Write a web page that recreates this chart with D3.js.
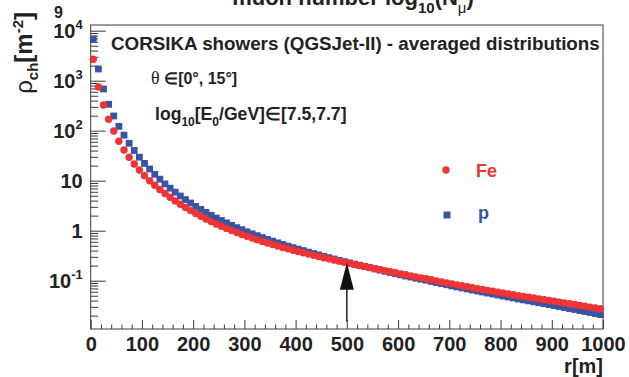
<!DOCTYPE html>
<html>
<head>
<meta charset="utf-8">
<script src="https://cdn.jsdelivr.net/npm/d3@7"></script>
<style>
  body { margin: 0; background: #fff; }
  svg { display: block; }
  text { font-family: "Liberation Sans", Arial, Helvetica, sans-serif; font-weight: bold; fill: #222; }
</style>
</head>
<body>
<svg id="chart" width="629" height="377"></svg>
<script>
// Radial bin centres (m)
const radius = [
  5, 15, 25, 35, 45, 55, 65, 75, 85, 95,
  105, 115, 125, 135, 145, 155, 165, 175, 185, 195,
  205, 215, 225, 235, 245, 255, 265, 275, 285, 295,
  305, 315, 325, 335, 345, 355, 365, 375, 385, 395,
  405, 415, 425, 435, 445, 455, 465, 475, 485, 495,
  505, 515, 525, 535, 545, 555, 565, 575, 585, 595,
  605, 615, 625, 635, 645, 655, 665, 675, 685, 695,
  705, 715, 725, 735, 745, 755, 765, 775, 785, 795,
  805, 815, 825, 835, 845, 855, 865, 875, 885, 895,
  905, 915, 925, 935, 945, 955, 965, 975, 985, 995
];

// Averaged charged-particle density (m^-2), iron primaries
const densityFe = [
  2680, 748, 327, 169, 98.6, 61.4, 41.1, 29.4, 21.6, 16.4,
  12.6, 10.0, 8.13, 6.67, 5.55, 4.66, 3.94, 3.37, 2.91, 2.52,
  2.21, 1.94, 1.71, 1.52, 1.36, 1.23, 1.11, 1.007, 0.918, 0.841,
  0.773, 0.713, 0.659, 0.611, 0.568, 0.528, 0.493, 0.461, 0.433, 0.406,
  0.383, 0.361, 0.340, 0.321, 0.304, 0.288, 0.273, 0.259, 0.246, 0.234,
  0.222, 0.211, 0.201, 0.192, 0.183, 0.174, 0.166, 0.158, 0.151, 0.144,
  0.137, 0.131, 0.125, 0.119, 0.114, 0.109, 0.104, 0.0991, 0.0946, 0.0904,
  0.0863, 0.0826, 0.0791, 0.0757, 0.0724, 0.0695, 0.0667, 0.0640, 0.0614, 0.0589,
  0.0565, 0.0543, 0.0522, 0.0502, 0.0483, 0.0466, 0.0449, 0.0433, 0.0417, 0.0402,
  0.0387, 0.0373, 0.0358, 0.0345, 0.0333, 0.0319, 0.0308, 0.0296, 0.0286, 0.0274
];

// Averaged charged-particle density (m^-2), proton primaries
const densityP = [
  6760, 1714, 682, 337, 197, 122, 81.3, 56.0, 40.2, 29.5,
  22.2, 17.1, 13.4, 10.7, 8.63, 7.08, 5.89, 4.94, 4.19, 3.58,
  3.06, 2.66, 2.32, 2.03, 1.79, 1.60, 1.43, 1.28, 1.15, 1.05,
  0.950, 0.868, 0.794, 0.729, 0.670, 0.618, 0.571, 0.530, 0.492, 0.458,
  0.428, 0.399, 0.373, 0.349, 0.327, 0.307, 0.288, 0.271, 0.255, 0.240,
  0.227, 0.214, 0.203, 0.192, 0.182, 0.172, 0.163, 0.154, 0.146, 0.138,
  0.131, 0.124, 0.118, 0.112, 0.107, 0.102, 0.0966, 0.0918, 0.0873, 0.0830,
  0.0789, 0.0752, 0.0716, 0.0682, 0.0650, 0.0621, 0.0593, 0.0566, 0.0541, 0.0516,
  0.0493, 0.0471, 0.0451, 0.0431, 0.0412, 0.0395, 0.0378, 0.0362, 0.0347, 0.0332,
  0.0318, 0.0304, 0.0290, 0.0277, 0.0265, 0.0252, 0.0241, 0.0231, 0.0220, 0.0210
];

// Axis ticks and labels
const xTickValues = [0, 100, 200, 300, 400, 500, 600, 700, 800, 900, 1000];
const yTickValues = [1e-1, 1, 10, 1e2, 1e3, 1e4];
const yTickBase   = ["10", "1", "10", "10", "10", "10"];
const yTickExp    = ["-1", "", "", "2", "3", "4"];

// Reference arrow at r = 500 m
const arrowR = 500, arrowFrom = 0.0152, arrowTo = 0.229;

const RED = "#ee3434", BLUE = "#3a54a5", INK = "#222", AXIS = "#3a3a3a";

const svg = d3.select("#chart");
const frame = { left: 90.7, right: 603, top: 25, bottom: 329 };

const x = d3.scaleLinear().domain([0, 1000]).range([frame.left, frame.right]);
const y = d3.scaleLog().domain([0.0108, 13000]).range([frame.bottom, frame.top]);

// --- axes (ticks pointing into the frame) ---
const xMinor = x.ticks(50).filter(v => v % 100 !== 0);
svg.append("g").attr("transform", `translate(0,${frame.bottom})`)
  .call(d3.axisBottom(x).tickValues(xMinor).tickSize(-4.5).tickFormat(""))
  .call(g => g.select(".domain").remove());
const gx = svg.append("g").attr("transform", `translate(0,${frame.bottom})`)
  .call(d3.axisBottom(x).tickValues(xTickValues).tickSize(-9).tickPadding(10).tickFormat(d3.format("d")))
  .call(g => g.select(".domain").remove());
gx.selectAll("text").attr("font-size", 20).attr("dy", 0).attr("y", 22).style("fill", INK)
  .attr("font-family", "Liberation Sans, Arial, sans-serif").attr("font-weight", "bold");

const yMinor = y.ticks().filter(v => Math.abs(Math.log10(v) - Math.round(Math.log10(v))) > 1e-6);
svg.append("g").attr("transform", `translate(${frame.left},0)`)
  .call(d3.axisLeft(y).tickValues(yMinor).tickSize(-7.5).tickFormat(""))
  .call(g => g.select(".domain").remove());
const gy = svg.append("g").attr("transform", `translate(${frame.left},0)`)
  .call(d3.axisLeft(y).tickValues(yTickValues).tickSize(-15).tickPadding(8).tickFormat(""))
  .call(g => g.select(".domain").remove());
gy.selectAll(".tick text").each(function(d, i) {
  const t = d3.select(this).attr("font-size", 20).attr("dy", 7).style("fill", INK)
    .attr("font-family", "Liberation Sans, Arial, sans-serif").attr("font-weight", "bold");
  t.append("tspan").text(yTickBase[i]);
  if (yTickExp[i]) t.append("tspan").attr("font-size", 13).attr("dy", -9).text(yTickExp[i]);
});
svg.selectAll(".tick line").attr("stroke", AXIS);

svg.append("rect")
  .attr("x", frame.left).attr("y", frame.top)
  .attr("width", frame.right - frame.left).attr("height", frame.bottom - frame.top)
  .attr("fill", "none").attr("stroke", AXIS).attr("stroke-width", 1);

// --- data points: protons (squares) beneath iron (circles) ---
const sq = 6.8;
svg.append("g").selectAll("rect").data(radius)
  .join("rect")
  .attr("x", (r) => x(r) - sq / 2)
  .attr("y", (r, i) => y(densityP[i]) - sq / 2)
  .attr("width", sq).attr("height", sq)
  .attr("fill", BLUE);
svg.append("g").selectAll("circle").data(radius)
  .join("circle")
  .attr("cx", (r) => x(r))
  .attr("cy", (r, i) => y(densityFe[i]))
  .attr("r", 3.7)
  .attr("fill", RED);

// --- arrow marking r = 500 m ---
const ax = x(arrowR), aTip = y(arrowTo), aBase = y(arrowFrom);
svg.append("line").attr("x1", ax).attr("x2", ax).attr("y1", aBase).attr("y2", aTip + 20)
  .attr("stroke", "#111").attr("stroke-width", 1.4);
svg.append("path")
  .attr("d", `M${ax},${aTip} L${ax - 7},${aTip + 27} L${ax + 7},${aTip + 27} Z`)
  .attr("fill", "#111");

// --- titles ---
const title = svg.append("text").attr("x", 353).attr("y", 5).attr("text-anchor", "middle").attr("font-size", 22);
title.append("tspan").text("muon number log");
title.append("tspan").attr("font-size", 15).attr("dy", 8).text("10");
title.append("tspan").attr("dy", -8).text("(N");
title.append("tspan").attr("font-size", 15).attr("dy", 8).attr("font-weight", "normal").text("μ");
title.append("tspan").attr("dy", -8).text(")");

svg.append("text").attr("x", 54).attr("y", 18).attr("font-size", 16).text("9");

const yTitle = svg.append("text")
  .attr("transform", "translate(32,12) rotate(-90)")
  .attr("text-anchor", "end").attr("font-size", 24);
yTitle.append("tspan").attr("font-weight", "normal").text("ρ");
yTitle.append("tspan").attr("font-size", 15).attr("dy", 6).text("ch");
yTitle.append("tspan").attr("dy", -6).text("[m");
yTitle.append("tspan").attr("font-size", 15).attr("dy", -9).text("-2");
yTitle.append("tspan").attr("dy", 9).text("]");

svg.append("text").attr("x", 603).attr("y", 373).attr("text-anchor", "end")
  .attr("font-size", 20).text("r[m]");

// --- annotations ---
svg.append("text").attr("x", 111).attr("y", 50).attr("font-size", 18.8)
  .text("CORSIKA showers (QGSJet-II) - averaged distributions");

const ang = svg.append("text").attr("x", 151).attr("y", 84).attr("font-size", 16);
ang.append("tspan").attr("font-family", "Liberation Serif, Times New Roman, serif")
  .attr("font-weight", "normal").attr("font-size", 18).text("θ ");
ang.append("tspan").text("∈[0°, 15°]");

const en = svg.append("text").attr("x", 155).attr("y", 120).attr("font-size", 17.6);
en.append("tspan").text("log");
en.append("tspan").attr("font-size", 12).attr("dy", 6).text("10");
en.append("tspan").attr("dy", -6).text("[E");
en.append("tspan").attr("font-size", 12).attr("dy", 6).text("0");
en.append("tspan").attr("dy", -6).text("/GeV]∈[7.5,7.7]");

// --- legend ---
svg.append("circle").attr("cx", 446).attr("cy", 170).attr("r", 3.7).attr("fill", RED);
svg.append("text").attr("x", 476).attr("y", 177).attr("font-size", 18).style("fill", RED).text("Fe");
svg.append("rect").attr("x", 443.5).attr("y", 211.5).attr("width", 7).attr("height", 7).attr("fill", BLUE);
svg.append("text").attr("x", 478).attr("y", 219).attr("font-size", 18).style("fill", BLUE).text("p");
</script>
</body>
</html>
